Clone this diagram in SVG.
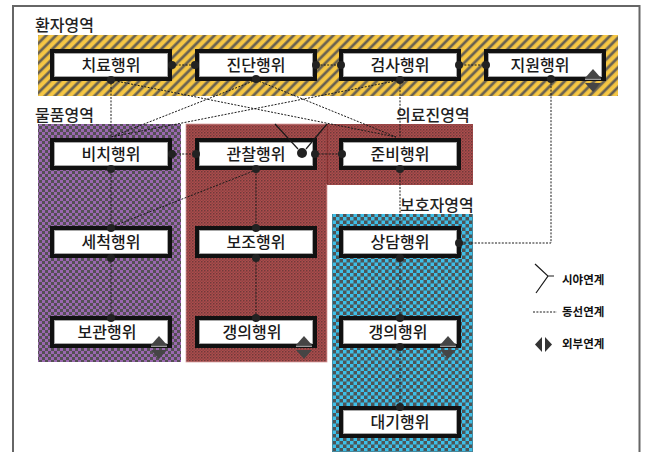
<svg xmlns="http://www.w3.org/2000/svg" width="645" height="452" viewBox="0 0 645 452">
<defs>
<pattern id="pYellow" patternUnits="userSpaceOnUse" width="7" height="7" patternTransform="rotate(45)">
<rect width="7" height="7" fill="#F6C744"/>
<rect x="0" y="0" width="3.4" height="7" fill="#B89A4A"/>
<rect x="0.7" y="0" width="2" height="7" fill="#5E5A52"/>
</pattern>
<pattern id="pPurple" patternUnits="userSpaceOnUse" width="6" height="6">
<rect width="6" height="6" fill="#545054"/>
<rect x="0" y="0" width="3" height="3" fill="#9A68B0"/>
<rect x="3" y="3" width="3" height="3" fill="#9A68B0"/>
</pattern>
<pattern id="pRed" patternUnits="userSpaceOnUse" width="3" height="3">
<rect width="3" height="3" fill="#AE4C4C"/>
<rect x="0" y="0" width="1.5" height="1.5" fill="#6E3A3A"/>
<rect x="1.5" y="1.5" width="1.5" height="1.5" fill="#8E4444"/>
</pattern>
<pattern id="pTeal" patternUnits="userSpaceOnUse" width="7" height="7">
<rect width="7" height="7" fill="#4E5456"/>
<rect x="0" y="0" width="3.5" height="3.5" fill="#3EBFE8"/>
<rect x="3.5" y="3.5" width="3.5" height="3.5" fill="#3EBFE8"/>
</pattern>
<g id="ext">
<polygon points="-8,-3 0,-12 8,-3" fill="#454545"/>
<rect x="-8" y="-2.5" width="16" height="1.5" fill="#9a9a9a"/>
<polygon points="-8,2 8,2 0,11" fill="#454545"/>
</g>
</defs>
<style>
.node rect.o{fill:#fff;stroke:#111;stroke-width:4}
.node rect.i{fill:none;stroke:#a8a8a8;stroke-width:1}
.node text{font-family:"Noto Sans CJK KR","Noto Sans",sans-serif;font-size:16px;fill:#1a1a1a;text-anchor:middle;font-weight:500}
.lbl{font-family:"Noto Sans CJK KR","Noto Sans",sans-serif;font-size:16px;fill:#222;font-weight:500}
.leg{font-family:"Noto Sans CJK KR","Noto Sans",sans-serif;font-size:11.5px;fill:#111;font-weight:700}
.dl{fill:none;stroke:#1a1a1a;stroke-width:1;stroke-dasharray:2 1.4}
.sl{fill:none;stroke:#1a1a1a;stroke-width:1.2}
.dot{fill:#222}
</style>
<rect width="645" height="452" fill="#fff"/>
<path d="M13,452 V6 H639.5 V452" fill="none" stroke="#666" stroke-width="2"/>

<g id="regions">
<rect x="38" y="35" width="580" height="61" fill="url(#pYellow)"/>
<rect x="38" y="124" width="143" height="238" fill="url(#pPurple)"/>
<rect x="186" y="124" width="141" height="238" fill="url(#pRed)" stroke="#d9a0a0" stroke-width="0.8"/>
<rect x="327" y="124" width="146" height="61" fill="url(#pRed)"/>
<line x1="327" y1="124" x2="327" y2="184" stroke="#7a1e1e" stroke-width="1"/>
<rect x="332" y="214" width="141" height="238" fill="url(#pTeal)"/>
</g>

<g id="n-chiryo" class="node"><rect class="o" x="52" y="51" width="118" height="28"/><rect class="i" x="54.5" y="53.5" width="113" height="23"/><text x="111" y="70.5">치료행위</text></g>
<g id="n-jindan" class="node"><rect class="o" x="197" y="51" width="118" height="28"/><rect class="i" x="199.5" y="53.5" width="113" height="23"/><text x="256" y="70.5">진단행위</text></g>
<g id="n-geomsa" class="node"><rect class="o" x="341" y="51" width="118" height="28"/><rect class="i" x="343.5" y="53.5" width="113" height="23"/><text x="400" y="70.5">검사행위</text></g>
<g id="n-jiwon" class="node"><rect class="o" x="486" y="51" width="118" height="28"/><rect class="i" x="488.5" y="53.5" width="113" height="23"/><text x="540" y="70.5">지원행위</text><use href="#ext" x="593" y="81"/></g>

<g id="n-bichi" class="node"><rect class="o" x="52" y="140" width="118" height="28"/><rect class="i" x="54.5" y="142.5" width="113" height="23"/><text x="111" y="159.5">비치행위</text></g>
<g id="n-gwanchal" class="node"><rect class="o" x="197" y="140" width="118" height="28"/><rect class="i" x="199.5" y="142.5" width="113" height="23"/><text x="256" y="159.5">관찰행위</text></g>
<g id="n-junbi" class="node"><rect class="o" x="341" y="140" width="118" height="28"/><rect class="i" x="343.5" y="142.5" width="113" height="23"/><text x="400" y="159.5">준비행위</text></g>

<g id="n-sechuk" class="node"><rect class="o" x="52" y="228" width="118" height="28"/><rect class="i" x="54.5" y="230.5" width="113" height="23"/><text x="111" y="247.5">세척행위</text></g>
<g id="n-bojo" class="node"><rect class="o" x="197" y="228" width="118" height="28"/><rect class="i" x="199.5" y="230.5" width="113" height="23"/><text x="256" y="247.5">보조행위</text></g>
<g id="n-sangdam" class="node"><rect class="o" x="341" y="228" width="118" height="28"/><rect class="i" x="343.5" y="230.5" width="113" height="23"/><text x="400" y="247.5">상담행위</text></g>

<g id="n-bogwan" class="node"><rect class="o" x="52" y="318" width="118" height="28"/><rect class="i" x="54.5" y="320.5" width="113" height="23"/><text x="107" y="337.5">보관행위</text><use href="#ext" x="159" y="348"/></g>
<g id="n-gaengui1" class="node"><rect class="o" x="197" y="318" width="118" height="28"/><rect class="i" x="199.5" y="320.5" width="113" height="23"/><text x="252" y="337.5">갱의행위</text><use href="#ext" x="304" y="348"/></g>
<g id="n-gaengui2" class="node"><rect class="o" x="341" y="318" width="118" height="28"/><rect class="i" x="343.5" y="320.5" width="113" height="23"/><text x="398" y="337.5">갱의행위</text><use href="#ext" x="448" y="348"/></g>

<g id="n-daegi" class="node"><rect class="o" x="341" y="408" width="118" height="28"/><rect class="i" x="343.5" y="410.5" width="113" height="23"/><text x="400" y="427.5">대기행위</text></g>

<g id="connectors">
<path class="dl" d="M172,65 H195"/>
<path class="dl" d="M317,65 H340"/>
<path class="dl" d="M461,65 H484"/>
<path class="dl" d="M111,80 V138"/>
<path class="dl" d="M111,80 L396,137"/>
<path class="dl" d="M256,80 L111,137"/>
<path class="dl" d="M256,80 L396,137"/>
<path class="dl" d="M400,80 L111,137"/>
<path class="dl" d="M400,80 V138"/>
<path class="dl" d="M172,154 H195"/>
<path class="dl" d="M315,154 H340"/>
<path class="dl" d="M111,170 V227"/>
<path class="dl" d="M256,170 L111,227"/>
<path class="dl" d="M256,170 V227"/>
<path class="dl" d="M400,170 V227"/>
<path class="dl" d="M111,258 V317"/>
<path class="dl" d="M256,258 V317"/>
<path class="dl" d="M400,258 V317"/>
<path class="dl" d="M400,348 V407"/>
<path class="dl" d="M461,243 H551 V80"/>
<path class="sl" d="M275,124 L298,149"/>
<path class="sl" d="M327,124 L306,149"/>
<circle class="dot" cx="302" cy="153" r="5"/>
<circle class="dot" cx="172" cy="65" r="4"/>
<circle class="dot" cx="195" cy="65" r="4"/>
<circle class="dot" cx="316" cy="65" r="4"/>
<circle class="dot" cx="341" cy="65" r="4"/>
<circle class="dot" cx="459" cy="65" r="4"/>
<circle class="dot" cx="486" cy="65" r="4"/>
<circle class="dot" cx="111" cy="80" r="4"/>
<circle class="dot" cx="256" cy="79" r="4"/>
<circle class="dot" cx="400" cy="80" r="4"/>
<circle class="dot" cx="551" cy="79" r="4"/>
<circle class="dot" cx="172" cy="154" r="4"/>
<circle class="dot" cx="196" cy="154" r="4"/>
<circle class="dot" cx="315" cy="154" r="4"/>
<circle class="dot" cx="342" cy="154" r="4"/>
<circle class="dot" cx="111" cy="169" r="4"/>
<circle class="dot" cx="256" cy="169" r="4"/>
<circle class="dot" cx="400" cy="169" r="4"/>
<circle class="dot" cx="111" cy="228" r="4"/>
<circle class="dot" cx="256" cy="228" r="4"/>
<circle class="dot" cx="111" cy="258" r="4"/>
<circle class="dot" cx="256" cy="258" r="4"/>
<circle class="dot" cx="400" cy="258" r="4"/>
<circle class="dot" cx="459" cy="243" r="4"/>
<circle class="dot" cx="111" cy="318" r="4"/>
<circle class="dot" cx="256" cy="318" r="4"/>
<circle class="dot" cx="400" cy="318" r="4"/>
<circle class="dot" cx="400" cy="347" r="4"/>
<circle class="dot" cx="400" cy="407" r="4"/>
</g>

<g id="labels">
<text class="lbl" x="35" y="31">환자영역</text>
<text class="lbl" x="35" y="121">물품영역</text>
<text class="lbl" x="396" y="121">의료진영역</text>
<text class="lbl" x="400" y="211">보호자영역</text>
</g>

<g id="legend">
<path class="sl" d="M535,264 L548,276 L536,293 M548,276 H554"/>
<text class="leg" x="562" y="284">시야연계</text>
<path class="dl" d="M533,312 H557"/>
<text class="leg" x="562" y="316">동선연계</text>
<polygon points="542,337 542,352 535,344.5" fill="#333"/>
<polygon points="545,337 545,352 552,344.5" fill="#333"/>
<text class="leg" x="562" y="348">외부연계</text>
</g>
</svg>
